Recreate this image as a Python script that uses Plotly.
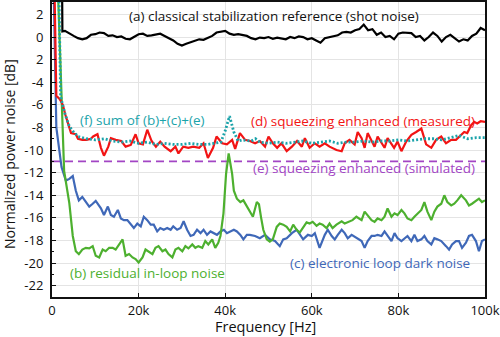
import plotly.graph_objects as go

# ---------------- data (frequencies in kHz, values in dB) ----------------
freq_a = [2.3, 2.4, 3, 4, 5, 6, 7, 8, 9, 10, 11, 12, 13, 14, 15, 16, 17, 18, 19, 20,
          21, 22, 23, 24, 25, 26, 27, 28, 29, 30, 31, 32, 33, 34, 35, 36, 37, 38, 39, 40,
          41, 42, 43, 44, 45, 46, 47, 48, 49, 50, 51, 52, 53, 54, 55, 56, 57, 58, 59, 60,
          61, 62, 63, 64, 65, 66, 67, 68, 69, 70, 71, 72, 73, 74, 75, 76, 77, 78, 79, 80,
          81, 82, 83, 84, 85, 86, 87, 88, 89, 90, 91, 92, 93, 94, 95, 96, 97, 98, 99, 100]
shot_noise = [6, 0.5, 0.55, 0.3, 0.1, -0.1, -0.2, -0.1, 0.2, 0.25, 0.4, 0.35, 0.1, 0.15, 0.0, 0.05, -0.15, -0.2, 0.0, 0.25,
              0.3, 0.1, 0.15, 0.2, 0.3, 0.1, -0.1, -0.3, -0.6, -0.75, -0.6, -0.45, -0.3, -0.2, -0.25, -0.1, 0.1, 0.4, 0.5, 0.55,
              0.3, 0.2, 0.25, 0.15, 0.1, -0.1, -0.2, -0.05, -0.1, 0.0, -0.15, -0.05, -0.1, -0.2, 0.0, -0.1, 0.05, 0.0, -0.2, -0.1,
              -0.3, -0.5, -0.1, 0.0, 0.1, 0.15, 0.4, 0.45, 0.4, 0.6, 0.7, 1.1, 0.6, 0.7, 0.2, 0.4, 0.0, 0.1, -0.2, 0.3,
              0.4, 0.4, 0.35, 0.0, 0.1, -0.3, 0.0, 0.4, 0.1, -0.4, 0.0, 0.2, -0.1, -0.4, -0.2, -0.3, 0.1, 0.3, 0.8, 0.6]

freq_b = [1.2, 2.8, 4.0, 4.8, 5.5, 6.2, 7.0, 7.8, 8.6, 9.4, 10.1, 10.9, 11.7, 12.4, 13.2, 14.0, 14.7, 15.5, 16.3, 17.0,
          17.8, 18.6, 19.3, 20.0, 20.9, 21.6, 22.3, 23.2, 23.9, 24.6, 25.5, 26.2, 26.9, 27.8, 28.5, 29.2, 30.1, 30.8, 31.5, 32.4,
          33.1, 33.8, 34.7, 35.4, 36.1, 37.0, 37.7, 38.4, 38.9, 39.6, 40.2, 40.8, 41.6, 42.0, 42.7, 43.5, 44.2, 45.0, 45.7, 46.4,
          47.3, 47.8, 48.3, 48.8, 49.6, 50.3, 51.0, 51.9, 52.6, 53.4, 54.2, 55.0, 55.7, 56.5, 57.2, 58.0, 58.8, 59.5, 60.2, 61.1,
          61.8, 62.5, 63.4, 64.1, 64.8, 65.7, 66.9, 67.6, 68.7, 69.4, 70.3, 71.5, 72.2, 72.9, 73.8, 74.5, 75.2, 76.1, 76.8, 77.5,
          78.4, 79.1, 79.8, 80.7, 81.4, 82.1, 83.0, 83.7, 84.4, 85.3, 86.0, 86.7, 87.6, 88.3, 89.0, 89.9, 90.6, 91.3, 92.2, 92.9,
          93.6, 94.5, 95.6, 96.3, 97.0, 97.9, 98.6, 99.3, 100.0]
residual_inloop = [6, -11.85, -14.7, -17.6, -18.95, -19.2, -18.8, -18.65, -18.7, -18.5, -19.35, -19.5, -18.8, -18.95, -18.65, -18.65, -18.8, -18.35, -17.9, -19.35,
                   -19.2, -19.5, -19.65, -19.95, -19.5, -18.8, -18.95, -19.2, -18.65, -18.5, -18.95, -18.8, -19.2, -19.5, -18.8, -18.65, -18.95, -18.5, -18.7, -18.35,
                   -18.65, -18.5, -18.65, -18.05, -18.35, -17.9, -18.65, -18.2, -17.6, -15.6, -12.1, -10.3, -12.1, -13.6, -14.3, -14.6, -14.45, -15.0, -15.45, -15.9,
                   -14.6, -14.8, -16.0, -17.05, -17.9, -18.1, -17.9, -16.8, -16.5, -16.6, -16.8, -17.2, -16.6, -17.05, -17.3, -16.9, -16.4, -16.5, -16.35, -16.7,
                   -16.5, -16.6, -16.9, -16.5, -16.9, -16.6, -16.3, -16.5, -16.3, -16.2, -15.9, -16.2, -15.45, -15.75, -16.2, -16.35, -16.05, -16.2, -15.9, -15.17,
                   -15.9, -15.6, -15.75, -15.3, -15.6, -16.05, -16.2, -15.9, -15.6, -15.3, -14.6, -15.45, -16.2, -15.45, -15.0, -14.75, -14.0, -14.6, -14.9, -14.75,
                   -14.45, -14.0, -14.45, -14.9, -14.75, -14.45, -14.3, -14.6, -14.45]

freq_c = [0.3, 1.0, 2.2, 3.2, 4.0, 4.8, 5.5, 6.2, 7.0, 7.8, 8.6, 9.4, 10.1, 11.3, 12.0, 12.9, 13.6, 14.3, 15.2, 15.9,
          16.6, 17.4, 18.2, 18.9, 19.7, 20.5, 21.2, 22.0, 22.8, 23.5, 24.3, 25.0, 25.8, 26.6, 27.4, 28.0, 28.9, 29.7, 30.4, 31.2,
          32.0, 32.7, 33.5, 34.3, 35.0, 35.8, 36.6, 37.3, 38.1, 38.9, 39.7, 40.4, 41.2, 42.0, 42.7, 43.5, 44.2, 45.0, 45.7, 46.9,
          48.0, 49.2, 50.3, 51.5, 52.6, 53.4, 54.2, 55.4, 56.5, 57.2, 58.0, 59.1, 60.0, 60.7, 61.4, 61.8, 63.0, 63.7, 64.6, 65.3,
          66.0, 66.9, 67.6, 68.3, 69.2, 70.3, 71.5, 72.2, 72.9, 73.8, 74.5, 75.2, 76.1, 76.8, 77.5, 78.4, 79.1, 79.8, 80.7, 81.4,
          82.1, 83.0, 83.7, 84.4, 85.3, 86.0, 86.7, 87.6, 88.3, 89.0, 89.9, 91.0, 91.7, 92.4, 93.3, 94.0, 94.7, 95.6, 96.3, 97.0,
          97.9, 98.6, 99.3, 100.0]
dark_noise = [6, -8.0, -11.5, -12.7, -12.55, -12.3, -13.6, -14.45, -14.15, -14.6, -15.0, -14.75, -14.5, -15.15, -15.75, -15.0, -15.75, -15.9, -15.3, -16.05,
              -16.2, -16.2, -16.6, -16.9, -16.5, -16.75, -15.9, -16.2, -16.6, -16.6, -17.2, -16.9, -17.05, -16.9, -17.05, -16.75, -17.05, -16.9, -16.3, -17.05,
              -17.6, -17.5, -17.05, -17.35, -17.05, -17.5, -17.2, -17.35, -17.5, -17.2, -17.05, -17.35, -17.2, -17.05, -17.2, -17.5, -17.9, -17.5, -17.5, -17.6,
              -17.8, -17.5, -17.9, -18.05, -18.5, -17.9, -17.8, -17.35, -17.05, -17.5, -17.9, -17.5, -17.6, -17.35, -18.2, -18.65, -17.5, -17.05, -17.6, -17.9,
              -17.5, -17.05, -17.35, -17.8, -17.5, -17.8, -18.05, -18.65, -18.05, -17.6, -17.6, -17.5, -17.6, -17.2, -17.6, -18.05, -17.35, -17.8, -18.05, -17.8,
              -17.6, -18.05, -17.5, -18.05, -17.9, -17.6, -18.05, -18.35, -17.8, -17.9, -18.05, -18.5, -18.8, -18.35, -18.05, -18.05, -18.65, -18.2, -17.6, -17.5,
              -18.05, -18.95, -18.05, -17.9]

freq_d = [0.5, 1.0, 1.8, 2.5, 3.1, 3.9, 4.4, 5.5, 6.0, 7.0, 8.0, 9.0, 9.5, 10.5, 11.3, 12.0, 13.0, 13.6, 14.7, 16.0,
          17.0, 18.2, 19.3, 20.0, 21.0, 22.0, 23.0, 24.0, 25.0, 26.0, 27.4, 28.5, 29.2, 30.3, 31.5, 32.6, 34.0, 35.0, 36.0, 37.2,
          38.0, 39.3, 40.4, 41.6, 42.3, 43.4, 44.6, 45.7, 46.9, 48.0, 49.2, 50.0, 51.0, 52.0, 53.0, 54.2, 55.4, 56.6, 57.7, 58.4,
          59.5, 60.7, 61.8, 63.0, 64.1, 65.7, 66.9, 67.6, 68.7, 69.9, 70.6, 71.5, 72.2, 72.9, 73.8, 74.5, 75.2, 76.1, 76.8, 77.5,
          78.4, 79.0, 79.8, 80.7, 81.8, 83.0, 84.1, 85.3, 86.4, 87.6, 88.7, 89.9, 91.0, 92.2, 93.3, 94.5, 95.2, 95.9, 96.8, 97.5,
          98.2, 99.0, 100.0]
squeezing_measured = [6, -5.2, -5.5, -6.0, -6.9, -7.8, -8.5, -8.6, -9.0, -9.1, -9.1, -9.0, -8.8, -8.6, -9.8, -10.5, -9.7, -8.95, -9.1, -9.2,
                      -9.7, -9.55, -8.6, -9.4, -9.5, -8.2, -9.2, -9.7, -9.25, -9.7, -10.1, -9.7, -10.3, -9.7, -9.8, -9.7, -9.8, -9.4, -10.7, -9.8,
                      -8.8, -9.4, -9.5, -9.1, -9.9, -8.5, -9.1, -9.2, -9.4, -9.2, -9.7, -8.8, -9.4, -9.8, -9.4, -10.1, -9.7, -9.2, -9.7, -8.95,
                      -9.8, -9.4, -9.7, -9.4, -9.7, -10.0, -10.1, -9.4, -9.1, -9.5, -8.4, -8.95, -9.8, -8.5, -9.1, -9.7, -8.8, -9.4, -9.8, -8.95,
                      -9.5, -9.8, -9.25, -10.1, -9.25, -8.65, -8.4, -8.1, -9.5, -9.8, -9.1, -8.8, -9.4, -9.1, -9.1, -8.65, -8.4, -8.5, -7.8, -7.5,
                      -7.65, -7.45, -7.5]

freq_e = [0, 100]
squeezing_simulated = [-11.0, -11.0]

freq_f = [1.5, 2.0, 3, 4, 5, 6, 8, 10, 12, 14, 16, 18, 20, 22, 24, 26, 28, 30, 32, 34,
          36, 38, 39, 40, 41, 42, 43, 44, 46, 47, 48, 50, 52, 54, 56, 58, 60, 62, 64, 66,
          68, 70, 72, 74, 76, 78, 80, 82, 84, 86, 88, 90, 92, 94, 96, 98, 100]
sum_bce = [6, -5.3, -6.8, -7.9, -8.4, -8.8, -9.0, -9.1, -9.0, -9.2, -9.3, -9.2, -9.4, -9.3, -9.5, -9.4, -9.5, -9.5, -9.4, -9.5,
           -9.5, -9.4, -9.3, -8.3, -7.0, -8.4, -9.2, -9.1, -9.2, -9.0, -9.3, -9.4, -9.3, -9.4, -9.3, -9.2, -9.4, -9.3, -9.2, -9.4,
           -9.3, -9.3, -9.2, -9.3, -9.2, -9.2, -9.1, -9.2, -9.1, -9.0, -9.0, -9.1, -8.9, -8.7, -9.0, -8.9, -8.9]

x_tick_vals = [0, 20000, 40000, 60000, 80000, 100000]
x_tick_text = ["0", "20k", "40k", "60k", "80k", "100k"]
y_tick_vals = [2, 0, -2, -4, -6, -8, -10, -12, -14, -16, -18, -20, -22]
y_tick_text = ["2", "0", "2", "-4", "-6", "-8", "-10", "-12", "-14", "-16", "-18", "-20", "-22"]

labels = {
    "a": "(a) classical stabilization reference (shot noise)",
    "b": "(b) residual in-loop noise",
    "c": "(c) electronic loop dark noise",
    "d": "(d) squeezing enhanced (measured)",
    "e": "(e) squeezing enhanced (simulated)",
    "f": "(f) sum of (b)+(c)+(e)",
}

# ---------------- styles ----------------
C_BLACK = "#000000"
C_RED = "#f21414"
C_BLUE = "#3f68b8"
C_GREEN = "#4db02f"
C_PURPLE = "#a245c4"
C_TEAL = "#1aa3aa"
FONT = "Open Sans"

def hz(f):
    return [v * 1000 for v in f]

fig = go.Figure()
fig.add_trace(go.Scatter(x=hz(freq_e), y=squeezing_simulated, mode="lines",
                         line=dict(color=C_PURPLE, width=1.8, dash="8px,5px")))
fig.add_trace(go.Scatter(x=hz(freq_c), y=dark_noise, mode="lines",
                         line=dict(color=C_BLUE, width=2.2)))
fig.add_trace(go.Scatter(x=hz(freq_b), y=residual_inloop, mode="lines",
                         line=dict(color=C_GREEN, width=2.2)))
fig.add_trace(go.Scatter(x=hz(freq_d), y=squeezing_measured, mode="lines",
                         line=dict(color=C_RED, width=2.2)))
fig.add_trace(go.Scatter(x=hz(freq_f), y=sum_bce, mode="lines",
                         line=dict(color=C_TEAL, width=2.8, dash="2px,2px")))
fig.add_trace(go.Scatter(x=hz(freq_a), y=shot_noise, mode="lines",
                         line=dict(color=C_BLACK, width=2.2)))

def ann(text, x, y, color, size=13.5, **kw):
    fig.add_annotation(text=text, x=x, y=y, xref="x", yref="y", showarrow=False,
                       xanchor="left", yanchor="middle",
                       font=dict(family=FONT, size=size, color=color), **kw)

ann(labels["a"], 17400, 1.85, "#111111")
ann(labels["f"], 6100, -7.3, C_TEAL)
ann(labels["d"], 45500, -7.45, C_RED)
ann(labels["e"], 46000, -11.6, C_PURPLE)
ann(labels["b"], 3800, -20.85, C_GREEN)
ann(labels["c"], 54500, -20.0, C_BLUE)

fig.add_annotation(text="Normalized power noise [dB]", xref="paper", yref="paper",
                   x=-0.097, y=0.485, textangle=-90, showarrow=False,
                   xanchor="center", yanchor="middle",
                   font=dict(family=FONT, size=14, color="#111111"))
fig.add_annotation(text="Frequency [Hz]", xref="paper", yref="paper",
                   x=0.492, y=-0.101, showarrow=False,
                   xanchor="center", yanchor="middle",
                   font=dict(family=FONT, size=14.5, color="#111111"))

axis_common = dict(showline=True, linecolor="#111111", linewidth=2, mirror=True,
                   ticks="inside", ticklen=4, tickcolor="#111111", tickwidth=1,
                   showgrid=True, gridcolor="#e4e4e4", gridwidth=1, zeroline=False,
                   ticklabeloverflow="allow",
                   tickfont=dict(family=FONT, size=13, color="#111111"))

fig.update_xaxes(range=[0, 100000], tickmode="array", tickvals=x_tick_vals,
                 ticktext=x_tick_text, **axis_common)
fig.update_yaxes(range=[-23, 3.1], tickmode="array", tickvals=y_tick_vals,
                 ticktext=y_tick_text, ticklabelstandoff=4,
                 minor=dict(ticks="inside", ticklen=2, dtick=1, tickcolor="#111111", showgrid=False),
                 **axis_common)

fig.update_layout(width=500, height=337, margin=dict(l=52, r=15, t=0, b=40),
                  paper_bgcolor="white", plot_bgcolor="white", showlegend=False)

fig.write_html("out.html")
